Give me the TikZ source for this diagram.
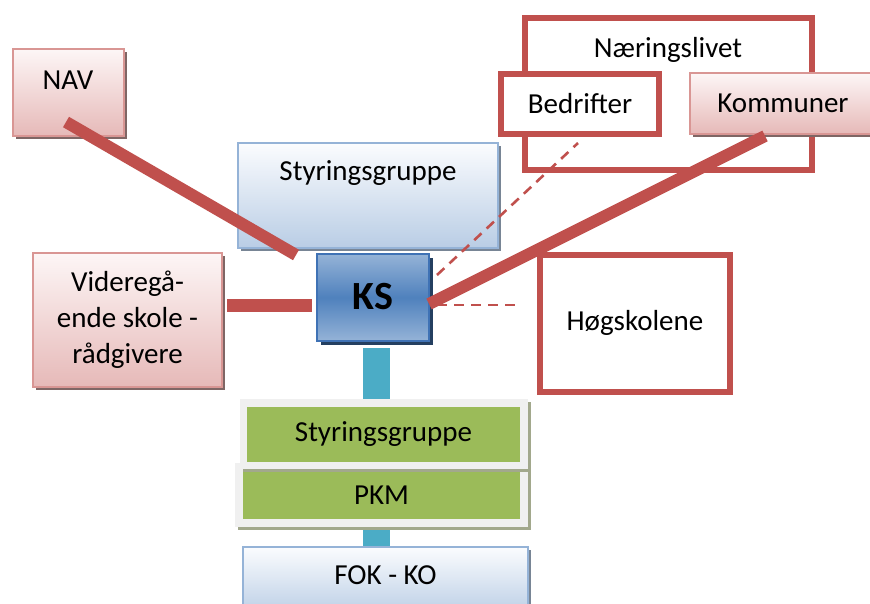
\documentclass[tikz,border=0pt]{standalone}
\usepackage{fontspec}
\setmainfont{Carlito}
\usetikzlibrary{shadows}
\definecolor{redline}{HTML}{C0504D}
\definecolor{pinkborder}{HTML}{D99694}
\definecolor{pinkbot}{HTML}{E6B9B8}
\definecolor{pinktop}{HTML}{FDF6F6}
\definecolor{blueborder}{HTML}{95B3D7}
\definecolor{bluebot}{HTML}{B9CDE5}
\definecolor{bluetop}{HTML}{FBFCFE}
\definecolor{ksmid}{HTML}{4F81BD}
\definecolor{kslight}{HTML}{95B3D7}
\definecolor{ksborder}{HTML}{3F72B5}
\definecolor{ksshadow}{HTML}{243F60}
\definecolor{greenfill}{HTML}{9BBB59}
\definecolor{panelfill}{HTML}{F0F0F0}
\definecolor{panelshadow}{HTML}{A2A88C}
\definecolor{teal}{HTML}{4BACC6}
\tikzset{
  txt/.style={font=\fontsize{29}{36}\selectfont, inner sep=0pt, align=center},
  pinkbox/.style={draw=pinkborder, line width=2pt, top color=pinktop, bottom color=pinkbot,
     inner sep=0pt, drop shadow={shadow xshift=3pt, shadow yshift=-3pt, fill=black!45!pinkbot, opacity=1}},
  bluebox/.style={draw=blueborder, line width=2pt, top color=bluetop, bottom color=bluebot,
     inner sep=0pt, drop shadow={shadow xshift=3pt, shadow yshift=-3pt, fill=black!35!bluebot, opacity=1}},
  redframe/.style={draw=redline, line width=6pt, fill=white, inner sep=0pt},
  thickred/.style={draw=redline, line width=12pt},
  dashred/.style={draw=redline, line width=2.6pt, dash pattern=on 10pt off 7pt},
  panel/.style={fill=panelfill, inner sep=0pt, drop shadow={shadow xshift=3pt, shadow yshift=-3pt, fill=panelshadow, opacity=1}},
  greenbox/.style={fill=greenfill, inner sep=0pt},
}
\begin{document}
\begin{tikzpicture}[x=1pt, y=-1pt]
\useasboundingbox (0,0) rectangle (870,603);
\clip (0,0) rectangle (870,603);
% Naeringslivet group
\node[redframe, minimum width=287pt, minimum height=152pt] (naer) at (668.5,94) {};
\node[txt] (naert) at (668,50) {Næringslivet};
\node[redframe, minimum width=158pt, minimum height=60pt] (bedr) at (580,104) {};
\node[txt] (bedrt) at (bedr.center) {Bedrifter};
\node[pinkbox, minimum width=186pt, minimum height=61pt] (komm) at (783,103.5) {};
\node[txt] (kommt) at (783,103) {Kommuner};
% NAV
\node[pinkbox, minimum width=111pt, minimum height=87pt] (nav) at (68.5,92.5) {};
\node[txt] (navt) at (68,80) {NAV};
% Styringsgruppe top
\node[bluebox, minimum width=260pt, minimum height=105pt] (styr) at (368,195.5) {};
\node[txt] (styrt) at (368,173) {Styringsgruppe};
% Videregaaende
\node[pinkbox, minimum width=189pt, minimum height=134pt] (vid) at (127.5,320) {};
\node[txt] (vidt) at (127.5,320) {Videregå-\\ende skole -\\rådgivere};
% Hogskolene
\node[redframe, minimum width=190pt, minimum height=137pt] (hog) at (635,323.5) {};
\node[txt] (hogt) at (635,323) {Høgskolene};
% teal connector
\coordinate (tealtop) at (376.5,348);
\coordinate (tealbot) at (376.5,547);
\draw[teal, line width=27pt] (tealtop) -- (tealbot);
% KS
\node[draw=ksborder, line width=2pt, top color=kslight, bottom color=kslight, middle color=ksmid,
      minimum width=112pt, minimum height=87pt, inner sep=0pt,
      drop shadow={shadow xshift=4pt, shadow yshift=-4pt, fill=ksshadow, opacity=1}] (ks) at (373,297.5) {};
\node[txt, font=\fontsize{40}{40}\selectfont\bfseries] (kst) at (373,297) {KS};
% green panels
\node[panel, minimum width=293pt, minimum height=64pt] (panel2) at (381.5,495) {};
\node[greenbox, minimum width=277pt, minimum height=49pt] (pkm) at (381.5,494.5) {};
\node[panel, minimum width=288pt, minimum height=70pt] (panel1) at (384,434) {};
\node[greenbox, minimum width=273pt, minimum height=55pt] (styr2) at (383.5,434.5) {};
\node[txt] (styr2t) at (styr2.center) {Styringsgruppe};
\fill[panelshadow] (243,469) rectangle (531,472);
\node[greenbox, minimum width=277pt, minimum height=47pt] (pkm2) at (381.5,495.5) {};
\node[txt] (pkmt) at (381.5,495) {PKM};
% FOK - KO
\node[bluebox, minimum width=285pt, minimum height=70pt] (fok) at (385.5,582) {};
\node[txt] (fokt) at (385.5,575) {FOK - KO};
% connectors
\coordinate (navA) at (66,122);
\coordinate (navB) at (296,255);
\draw[thickred] (navA) -- (navB);
\coordinate (vidA) at (227,305);
\coordinate (vidB) at (312,305);
\draw[line width=13pt, redline] (vidA) -- (vidB);
\coordinate (kA) at (429,304);
\coordinate (kB) at (765,136);
\draw[thickred] (kA) -- (kB);
\coordinate (dA) at (437,275);
\coordinate (dB) at (578,143);
\draw[dashred] (dA) -- (dB);
\coordinate (hA) at (437,305);
\coordinate (hB) at (522,305);
\draw[dashred] (hA) -- (hB);
\end{tikzpicture}
\end{document}
